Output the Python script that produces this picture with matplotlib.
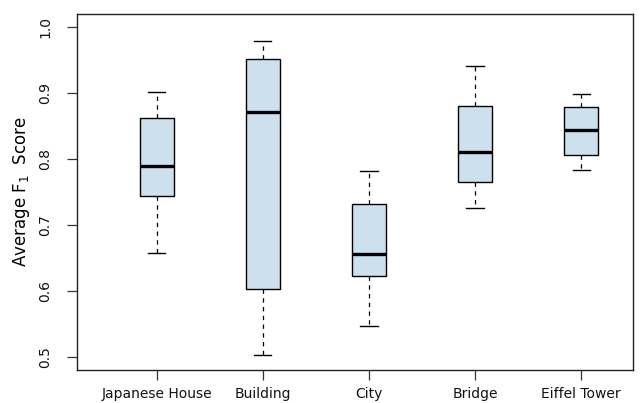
import matplotlib
matplotlib.use("Agg")
import matplotlib.pyplot as plt

categories = ["Japanese House", "Building", "City", "Bridge", "Eiffel Tower"]
whisker_low = [0.658, 0.502, 0.546, 0.725, 0.783]
q1 = [0.744, 0.603, 0.622, 0.765, 0.806]
median = [0.790, 0.871, 0.656, 0.811, 0.844]
q3 = [0.863, 0.952, 0.732, 0.880, 0.879]
whisker_high = [0.902, 0.979, 0.782, 0.942, 0.899]
yticks = [0.5, 0.6, 0.7, 0.8, 0.9, 1.0]

stats = []
for i, c in enumerate(categories):
    stats.append(dict(label=c, whislo=whisker_low[i], q1=q1[i], med=median[i],
                      q3=q3[i], whishi=whisker_high[i], fliers=[]))

fig = plt.figure(figsize=(6.4, 4.03), dpi=100)
ax = fig.add_axes([77/640, 1-370/403, (633-77)/640, (370-14)/403])

positions = list(range(1, len(categories)+1))
ax.bxp(stats, positions=positions, widths=0.32, patch_artist=True,
       boxprops=dict(facecolor="#cde0ed", edgecolor="black", linewidth=1.0),
       medianprops=dict(color="black", linewidth=2.4, solid_capstyle="butt"),
       whiskerprops=dict(color="black", linewidth=0.9, linestyle=(0, (3.5, 3.5))),
       capprops=dict(color="black", linewidth=1.0),
       capwidths=0.165, showfliers=False)

ax.set_xlim(0.251, 5.487)
ax.set_ylim(0.4798, 1.0202)
ax.set_xticks(positions)
ax.set_xticklabels(categories, fontsize=10, color="#111111")
ax.set_yticks(yticks)
ax.set_yticklabels([f"{v:.1f}" for v in yticks], fontsize=10, rotation=90,
                   va="center", color="#111111")
ax.tick_params(axis="both", length=7, width=0.9, color="#333333")
ax.tick_params(axis="x", pad=5)
ax.tick_params(axis="y", pad=11)
for s in ax.spines.values():
    s.set_linewidth(1.0)
    s.set_color("#222222")
ax.set_ylabel(r"Average $\mathregular{F_1}$  Score", fontsize=12, labelpad=4)

fig.savefig("out.png", dpi=100)
